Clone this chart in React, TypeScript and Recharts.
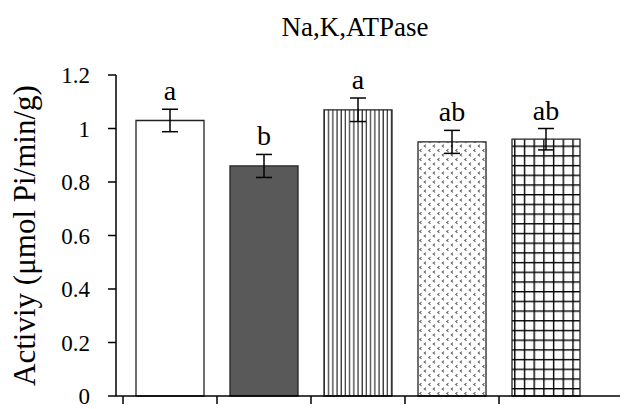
import { BarChart, Bar, XAxis, YAxis, Cell, ErrorBar, LabelList } from "recharts";

const groups = ["1", "2", "3", "4", "5"];
const activity = [1.03, 0.86, 1.07, 0.95, 0.96];
const sem = [0.042, 0.043, 0.044, 0.043, 0.04];
const letters = ["a", "b", "a", "ab", "ab"];
const yTicks = [0, 0.2, 0.4, 0.6, 0.8, 1, 1.2];

const fills = ["#ffffff", "#595959", "url(#vlines)", "url(#dots)", "url(#grid)"];

const chartData = groups.map((g, i) => ({
  group: g,
  activity: activity[i],
  err: sem[i],
  letter: letters[i],
}));

const font = "'Liberation Serif', 'Times New Roman', serif";

const BoundaryTick = (props: any) => {
  const { x, y } = props;
  const bx = Number(x) - 47;
  return <line x1={bx} y1={y} x2={bx} y2={Number(y) + 8} stroke="#000" strokeWidth={1.5} />;
};

const LetterLabel = (props: any) => {
  const { x, y, width, height, index } = props;
  const v = activity[index];
  const pxPerUnit = Number(height) / v;
  const top = Number(y) - sem[index] * pxPerUnit;
  return (
    <text
      x={Number(x) + Number(width) / 2}
      y={top - 9}
      textAnchor="middle"
      fontFamily={font}
      fontSize={28}
      fill="#000"
    >
      {letters[index]}
    </text>
  );
};

const YLabel = (props: any) => {
  const vb = props.viewBox || {};
  const cy = Number(vb.y) + Number(vb.height) / 2;
  return (
    <text
      x={35}
      y={cy}
      transform={`rotate(-90, 35, ${cy})`}
      textAnchor="middle"
      fontFamily={font}
      fontSize={31}
      fill="#000"
    >
      Activiy (μmol Pi/min/g)
    </text>
  );
};

const App = () => {
  return (
    <div style={{ position: "relative", width: 626, height: 409, background: "#fff" }}>
      <style>{"body{margin:0}"}</style>
      <svg width={0} height={0} style={{ position: "absolute" }}>
        <defs>
          <pattern id="vlines" patternUnits="userSpaceOnUse" width={4.2} height={10}>
            <rect width={4.2} height={10} fill="#fff" />
            <line x1={1} y1={0} x2={1} y2={10} stroke="#000" strokeWidth={1} />
          </pattern>
          <pattern id="grid" patternUnits="userSpaceOnUse" width={9.7} height={9.7}>
            <rect width={9.7} height={9.7} fill="#fff" />
            <line x1={0.7} y1={0} x2={0.7} y2={9.7} stroke="#000" strokeWidth={1.4} />
            <line x1={0} y1={0.7} x2={9.7} y2={0.7} stroke="#000" strokeWidth={1.4} />
          </pattern>
          <pattern id="dots" patternUnits="userSpaceOnUse" width={9} height={9}>
            <rect width={9} height={9} fill="#fff" />
            <path d="M3,0.6 L1.2,2 L3,3.4" fill="none" stroke="#666" strokeWidth={1.1} />
            <path d="M7.5,5.1 L5.7,6.5 L7.5,7.9" fill="none" stroke="#666" strokeWidth={1.1} />
          </pattern>
        </defs>
      </svg>
      <div
        style={{
          position: "absolute",
          left: 0,
          width: 710,
          top: 11,
          textAlign: "center",
          fontFamily: font,
          fontSize: 27,
          color: "#000",
          lineHeight: "32px",
        }}
      >
        Na,K,ATPase
      </div>
      <BarChart
        width={626}
        height={409}
        data={chartData}
        margin={{ top: 75, right: 6, bottom: 0, left: 0 }}
        barSize={68}
      >
        <XAxis
          dataKey="group"
          height={13}
          tick={<BoundaryTick />}
          tickLine={false}
          tickSize={0}
          tickMargin={0}
          interval={0}
          padding={{ left: 7, right: 27 }}
          axisLine={{ stroke: "#000", strokeWidth: 1.5 }}
        />
        <YAxis
          width={116}
          domain={[0, 1.2]}
          ticks={yTicks}
          interval={0}
          tickSize={8}
          tickMargin={18}
          axisLine={{ stroke: "#000", strokeWidth: 1.5 }}
          tickLine={{ stroke: "#000", strokeWidth: 1.5 }}
          tick={{ fill: "#000", fontSize: 23, fontFamily: font }}
          label={<YLabel />}
        />
        <Bar dataKey="activity" isAnimationActive={false} stroke="#222" strokeWidth={1.3}>
          {chartData.map((d, i) => (
            <Cell key={d.group} fill={fills[i]} />
          ))}
          <ErrorBar dataKey="err" width={8} stroke="#000" strokeWidth={1.5} />
          <LabelList dataKey="letter" content={<LetterLabel />} />
        </Bar>
      </BarChart>
    </div>
  );
};

export default App;
